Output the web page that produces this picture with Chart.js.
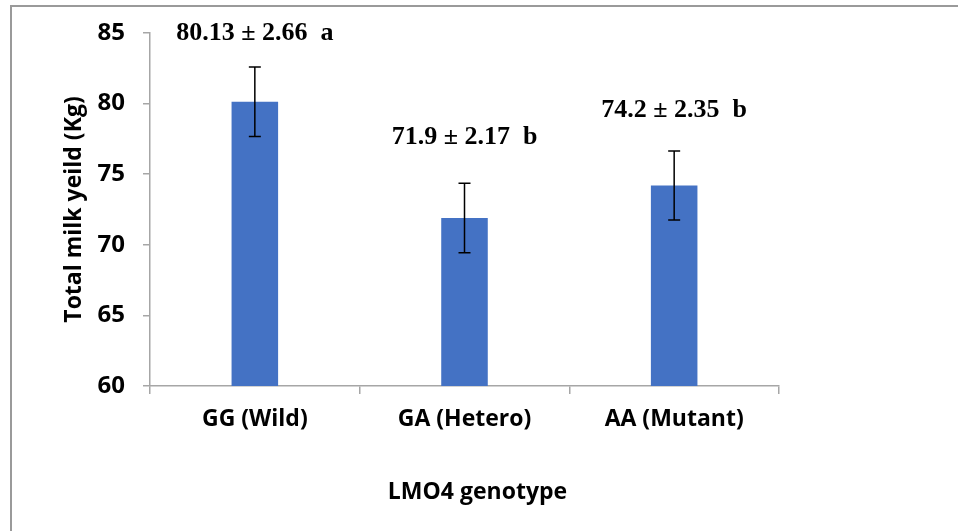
<!DOCTYPE html>
<html>
<head>
<meta charset="utf-8">
<script src="https://cdn.jsdelivr.net/npm/chart.js@4"></script>
<style>
  html, body { margin: 0; padding: 0; background: #fff; }
  #wrap { position: relative; width: 958px; height: 531px; }
  #frame { position: absolute; left: 10px; top: 5px; right: 0; bottom: 0;
           border-top: 2px solid #9a9a9a; border-left: 2px solid #9a9a9a; pointer-events: none; }
  canvas { position: absolute; left: 0; top: 0; }
</style>
</head>
<body>
<div id="wrap">
  <canvas id="myChart" width="958" height="531"></canvas>
  <div id="frame"></div>
</div>
<script>
const genotypes = ["GG (Wild)", "GA (Hetero)", "AA (Mutant)"];
const milkYield = [80.13, 71.9, 74.2];
const errors = [2.46, 2.46, 2.45];
const labelTexts = ["80.13 \u00b1 2.66  a", "71.9 \u00b1 2.17  b", "74.2 \u00b1 2.35  b"];
const labelLevels = [85, 77.6, 79.5];
const xTitle = "LMO4 genotype";

const axisColor = "#a6a6a6";
const sansBold = { family: "'Open Sans', sans-serif", weight: "bold", size: 23 };

const errorBars = {
  id: "errorBars",
  afterDatasetsDraw(chart) {
    const { ctx, chartArea } = chart;
    const y = chart.scales.y;
    const meta = chart.getDatasetMeta(0);
    ctx.save();
    ctx.strokeStyle = "#000";
    ctx.lineWidth = 1.5;
    meta.data.forEach((bar, i) => {
      const top = y.getPixelForValue(milkYield[i] + errors[i]);
      const bottom = y.getPixelForValue(milkYield[i] - errors[i]);
      ctx.beginPath();
      ctx.moveTo(bar.x, top);
      ctx.lineTo(bar.x, bottom);
      ctx.moveTo(bar.x - 6, top);
      ctx.lineTo(bar.x + 6, top);
      ctx.moveTo(bar.x - 6, bottom);
      ctx.lineTo(bar.x + 6, bottom);
      ctx.stroke();
    });
    // mean ± SE labels
    ctx.fillStyle = "#000";
    ctx.font = "bold 26px 'Liberation Serif', 'Times New Roman', serif";
    ctx.textAlign = "center";
    ctx.textBaseline = "middle";
    meta.data.forEach((bar, i) => {
      ctx.fillText(labelTexts[i], bar.x, y.getPixelForValue(labelLevels[i]));
    });
    // x axis title, sits a little right of the plot centre
    ctx.font = "bold 23px 'Open Sans', sans-serif";
    ctx.fillText(xTitle, (chartArea.left + chartArea.right) / 2 + 13, chart.height - 39);
    ctx.restore();
  },
};

new Chart(document.getElementById("myChart"), {
  type: "bar",
  data: {
    labels: genotypes,
    datasets: [
      {
        data: milkYield,
        backgroundColor: "#4472C4",
        barPercentage: 0.222,
        categoryPercentage: 1,
      },
    ],
  },
  options: {
    responsive: false,
    animation: false,
    layout: { padding: { top: 33, right: 179, left: 0, bottom: 0 } },
    plugins: {
      legend: { display: false },
      tooltip: { enabled: false },
    },
    scales: {
      x: {
        afterFit: (scale) => { scale.height = 145; },
        border: { color: axisColor, width: 1.5 },
        grid: { offset: true, drawOnChartArea: false, drawTicks: true, tickLength: 8, color: axisColor, lineWidth: 1.5 },
        ticks: { color: "#000", font: sansBold, padding: 12, maxRotation: 0 },
      },
      y: {
        min: 60,
        max: 85,
        afterFit: (scale) => { scale.width = 150; },
        border: { color: axisColor, width: 1.5 },
        grid: { drawOnChartArea: false, drawTicks: true, tickLength: 7, color: axisColor, lineWidth: 1.5 },
        ticks: { stepSize: 5, color: "#000", font: { ...sansBold, size: 24 }, padding: 18 },
        title: {
          display: true,
          text: "Total milk yeild (Kg)",
          color: "#000",
          font: sansBold,
          padding: { top: 61, bottom: 0 },
        },
      },
    },
  },
  plugins: [errorBars],
});
</script>
</body>
</html>
